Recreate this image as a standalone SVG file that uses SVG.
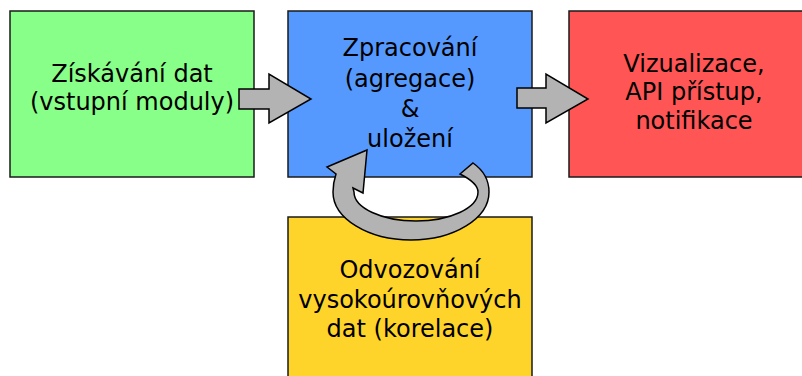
<svg xmlns="http://www.w3.org/2000/svg" width="802" height="376" viewBox="0 0 802 376">
<style>
.box{stroke:#1a1a1a;stroke-width:1.5}
.lbl{font-family:"DejaVu Sans",sans-serif;font-size:24px;fill:#000;text-anchor:middle}
.arr{fill:#b3b3b3;stroke:#000;stroke-width:1.5;stroke-linejoin:miter}
</style>
<rect x="0" y="0" width="802" height="376" fill="#fff"/>
<g id="node-acquire">
<rect class="box" x="10" y="11" width="244" height="166" fill="#88ff88"/>
<text class="lbl" x="132" y="82">Získávání dat</text>
<text class="lbl" x="132" y="110">(vstupní moduly)</text>
</g>
<g id="node-process">
<rect class="box" x="288" y="11" width="244" height="166" fill="#5599ff"/>
<text class="lbl" x="410" y="56">Zpracování</text>
<text class="lbl" x="410" y="87">(agregace)</text>
<text class="lbl" x="410" y="117">&amp;</text>
<text class="lbl" x="410" y="147">uložení</text>
</g>
<g id="node-output">
<rect class="box" x="569" y="11" width="250" height="166" fill="#ff5555"/>
<text class="lbl" x="694" y="72">Vizualizace,</text>
<text class="lbl" x="694" y="100">API přístup,</text>
<text class="lbl" x="694" y="129">notifikace</text>
</g>
<g id="node-derive">
<rect class="box" x="288" y="217" width="244" height="170" fill="#ffd42a"/>
<text class="lbl" x="410" y="278">Odvozování</text>
<text class="lbl" x="410" y="308">vysokoúrovňových</text>
<text class="lbl" x="410" y="337">dat (korelace)</text>
</g>
<g id="connectors">
<polygon class="arr" points="239,89 269,89 269,74 311,99 269,123 269,109 239,109"/>
<polygon class="arr" points="517,88 546,88 546,74 588,99 546,123 546,108 517,108"/>
<path class="arr" d="M336,174 C334,180 333,186 333,192 C333,218.5 368,240 411,240 C454,240 489,218.5 489,192 C489,180 483,170 473,163 L460,174 C472,180 478,186 478,192 C478,208 450,221 416,221 C382,221 354,208 354,192 L353,188 L363,193 L367,150 L327,167 Z"/>
</g>
</svg>
